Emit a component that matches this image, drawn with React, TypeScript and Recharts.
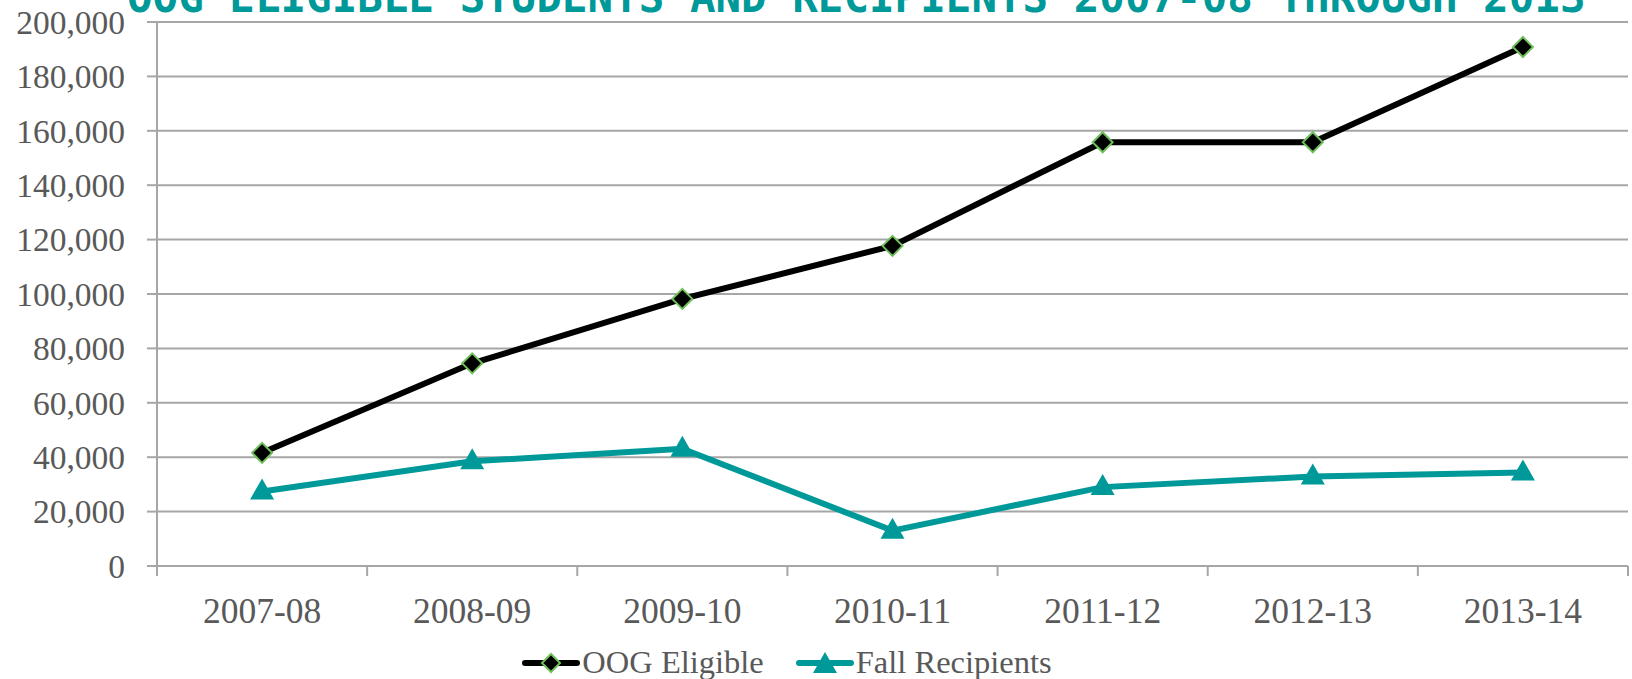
import { LineChart, Line, XAxis, YAxis, CartesianGrid, Legend } from "recharts";

const years = ["2007-08", "2008-09", "2009-10", "2010-11", "2011-12", "2012-13", "2013-14"];
const oogEligible = [41600, 74500, 98200, 117700, 155800, 155800, 190800];
const fallRecipients = [27400, 38500, 43100, 13000, 29000, 32900, 34400];
const yTicks = [0, 20000, 40000, 60000, 80000, 100000, 120000, 140000, 160000, 180000, 200000];

const data = years.map((y, i) => ({
  year: y,
  oog: oogEligible[i],
  fall: fallRecipients[i],
}));

const GRID = "#a6a6a6";
const LABEL = "#595959";
const TEAL = "#009999";
const FONT = "'Liberation Serif', 'Times New Roman', serif";

const Diamond = (p: any) => {
  const { cx, cy } = p;
  if (cx == null || cy == null) return null;
  const s = 10;
  return (
    <polygon
      key={p.key ?? `d-${p.index}`}
      points={`${cx},${cy - s} ${cx + s},${cy} ${cx},${cy + s} ${cx - s},${cy}`}
      fill="#000"
      stroke="#6fbf5a"
      strokeWidth={2}
    />
  );
};

const Triangle = (p: any) => {
  const { cx, cy } = p;
  if (cx == null || cy == null) return null;
  return (
    <polygon
      key={p.key ?? `t-${p.index}`}
      points={`${cx},${cy - 13} ${cx + 12},${cy + 8} ${cx - 12},${cy + 8}`}
      fill={TEAL}
    />
  );
};

// x tick: label plus a tick mark at the band boundary
const XTick = (p: any) => {
  const { x, y, payload, index } = p;
  const off = payload?.offset ?? 0;
  const ay = y - 32;
  return (
    <g>
      <line x1={x - off} y1={ay} x2={x - off} y2={ay + 10} stroke={GRID} strokeWidth={2} />
      {index === years.length - 1 && (
        <line x1={x + off} y1={ay} x2={x + off} y2={ay + 10} stroke={GRID} strokeWidth={2} />
      )}
      <text x={x} y={y} dy="0.71em" textAnchor="middle" fill={LABEL} fontSize={35.5} fontFamily={FONT}>
        {payload.value}
      </text>
    </g>
  );
};

const LegendBox = () => (
  <div
    style={{
      display: "flex",
      justifyContent: "center",
      alignItems: "center",
      gap: 32,
      fontFamily: FONT,
      fontSize: 32.5,
      color: LABEL,
      marginLeft: -54,
      marginTop: 8,
    }}
  >
    <div style={{ display: "flex", alignItems: "center" }}>
      <svg width={58} height={26}>
        <line x1={3} y1={13} x2={55} y2={13} stroke="#000" strokeWidth={6} strokeLinecap="round" />
        <polygon points="29,4 38,13 29,22 20,13" fill="#000" stroke="#6fbf5a" strokeWidth={2} />
      </svg>
      <span style={{ marginLeft: 2 }}>OOG Eligible</span>
    </div>
    <div style={{ display: "flex", alignItems: "center" }}>
      <svg width={58} height={26}>
        <line x1={3} y1={13} x2={55} y2={13} stroke={TEAL} strokeWidth={6} strokeLinecap="round" />
        <polygon points="29,2 41,23 17,23" fill={TEAL} />
      </svg>
      <span style={{ marginLeft: 2 }}>Fall Recipients</span>
    </div>
  </div>
);

export default function App() {
  return (
    <div style={{ position: "absolute", left: 0, top: 0, width: 1632, height: 679, overflow: "hidden", background: "#fff" }}>
      <div
        style={{
          position: "absolute",
          left: 127,
          top: -23,
          fontFamily: "'DejaVu Sans Mono', monospace",
          fontWeight: "bold",
          fontSize: 42.5,
          lineHeight: "42px",
          color: TEAL,
          whiteSpace: "nowrap",
        }}
      >
        OOG ELIGIBLE STUDENTS AND RECIPIENTS 2007-08 THROUGH 2013
      </div>
      <LineChart
        width={1632}
        height={679}
        data={data}
        margin={{ top: 22, right: 4, left: 0, bottom: 0 }}
      >
        <CartesianGrid vertical={false} stroke={GRID} strokeWidth={2} />
        <XAxis
          dataKey="year"
          scale="band"
          height={70}
          axisLine={{ stroke: GRID, strokeWidth: 2 }}
          tickLine={false}
          tickSize={10}
          tickMargin={22}
          interval={0}
          tick={<XTick />}
        />
        <YAxis
          width={157}
          domain={[0, 200000]}
          ticks={yTicks}
          interval={0}
          axisLine={{ stroke: GRID, strokeWidth: 2 }}
          tickLine={{ stroke: GRID, strokeWidth: 2 }}
          tickSize={10}
          tickMargin={22}
          tickFormatter={(v: number) => v.toLocaleString("en-US")}
          tick={{ fill: LABEL, fontSize: 33.5, fontFamily: FONT }}
        />
        <Legend verticalAlign="bottom" height={43} content={() => <LegendBox />} />
        <Line
          type="linear"
          dataKey="oog"
          name="OOG Eligible"
          stroke="#000"
          strokeWidth={6}
          dot={<Diamond />}
          isAnimationActive={false}
        />
        <Line
          type="linear"
          dataKey="fall"
          name="Fall Recipients"
          stroke={TEAL}
          strokeWidth={6}
          dot={<Triangle />}
          isAnimationActive={false}
        />
      </LineChart>
    </div>
  );
}
